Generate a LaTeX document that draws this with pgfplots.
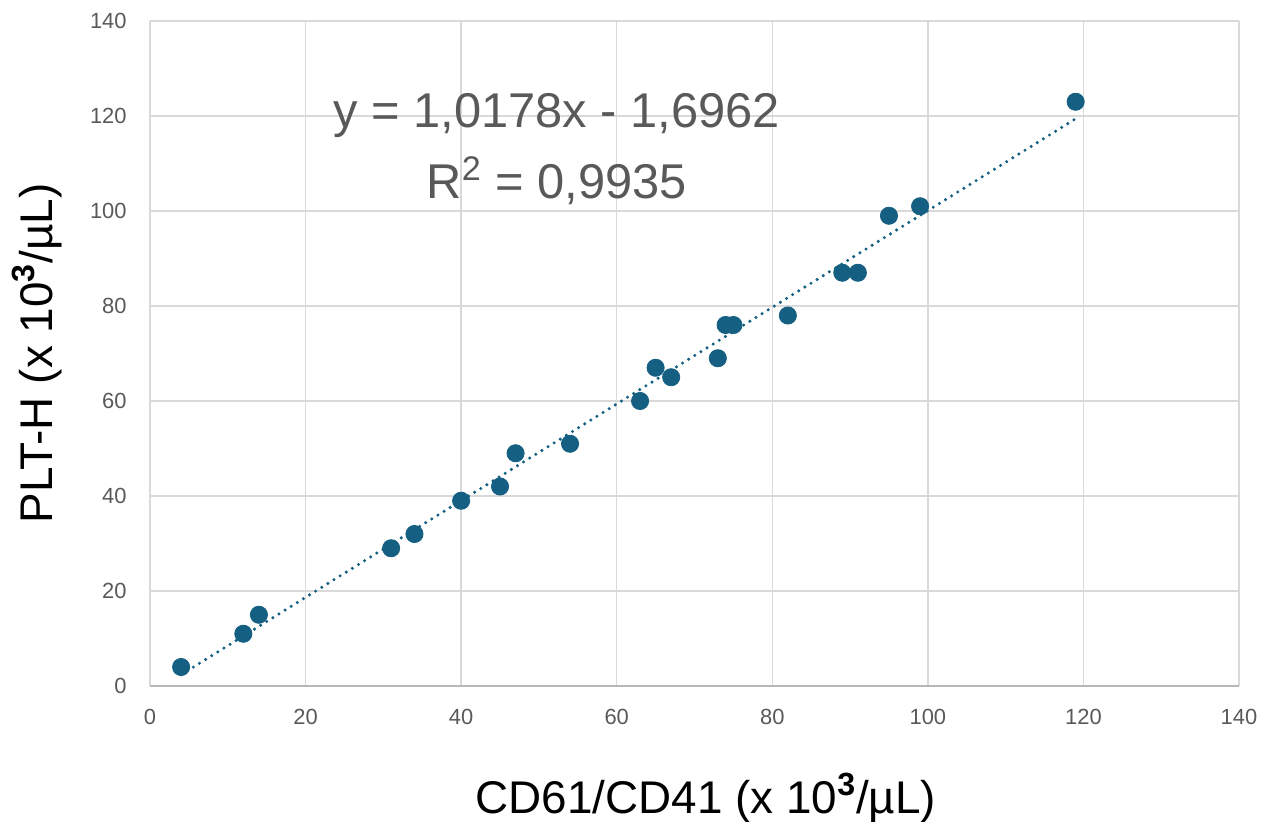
\documentclass[border=0pt]{standalone}
\usepackage{pgfplots}
\pgfplotsset{compat=1.18}
\usepackage{fontspec}
\setmainfont{Liberation Sans}
\definecolor{pts}{HTML}{156082}
\definecolor{gridc}{HTML}{D9D9D9}
\definecolor{txt}{HTML}{595959}
\begin{document}
\begin{tikzpicture}
\path[use as bounding box] (-75bp,-68bp) rectangle (556.5bp,343bp);
\begin{axis}[
  at={(0,0)}, anchor=south west,
  scale only axis,
  width=544.5bp, height=332.5bp,
  xmin=0, xmax=140, ymin=0, ymax=140,
  xtick={0,20,...,140}, ytick={0,20,...,140},
  grid=major,
  major grid style={gridc, line width=0.75bp},
  axis line style={draw=none},
  axis x line*=bottom, axis y line*=left,
  x axis line style={draw=gridc!85!black, line width=0.75bp},
  major tick length=0pt,
  tick label style={font=\fontsize{11}{12}\selectfont, text=txt, inner sep=0pt},
  /pgf/number format/assume math mode=true,
  xticklabel style={anchor=center, yshift=-15.5bp},
  yticklabel style={anchor=east, xshift=-11.5bp},
  xlabel={CD61/CD41 (x 10\textsuperscript{\textbf{3}}/\textmu L)},
  ylabel={PLT-H (x 10\textsuperscript{\textbf{3}}/\textmu L)},
  every axis x label/.style={at={(axis description cs:0.5105,-0.1684)}, anchor=center, font=\fontsize{23}{25}\selectfont},
  every axis y label/.style={at={(axis description cs:-0.1038,0.5)}, rotate=90, anchor=center, font=\fontsize{23}{25}\selectfont},
  clip=false,
]
\addplot[pts, line width=1.7bp, line cap=round, dash pattern=on 0pt off 3.6bp]
  coordinates {(4,2.375) (119,119.42)};
\addplot[only marks, mark=*, mark size=4.3bp, color=pts]
  coordinates {
  (4,4) (12,11) (14,15) (31,29) (34,32) (40,39) (45,42) (47,49)
  (54,51) (63,60) (65,67) (67,65) (73,69) (74,76) (75,76) (82,78)
  (89,87) (91,87) (95,99) (99,101) (119,123)};
\node[text=txt, font=\fontsize{24.5}{26}\selectfont] at (axis cs:52.3,120) {y = 1,0178x - 1,6962};
\node[text=txt, font=\fontsize{24.5}{26}\selectfont] at (axis cs:52.3,106.3) {R\textsuperscript{2} = 0,9935};
\end{axis}
\end{tikzpicture}
\end{document}
